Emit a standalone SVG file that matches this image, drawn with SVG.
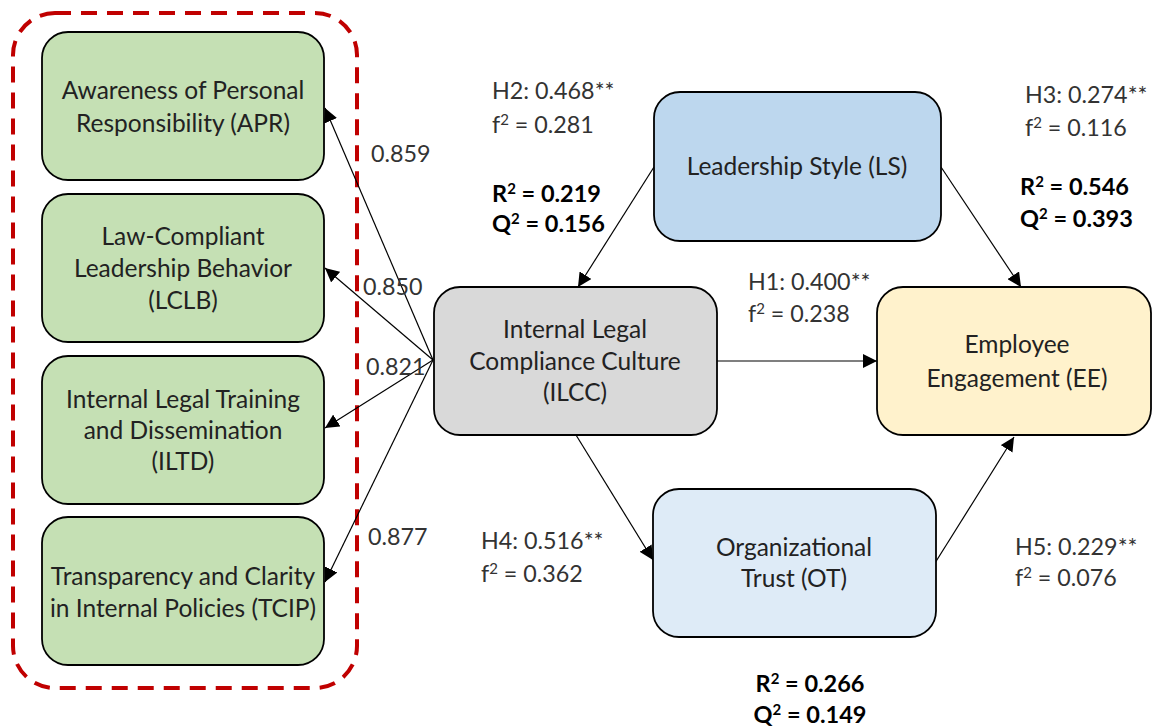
<svg xmlns="http://www.w3.org/2000/svg" width="1153" height="727" viewBox="0 0 1153 727">
<defs>
<style>
.node{stroke:#000;stroke-width:1.8}
.green{fill:#C5E0B4}
.t{font-family:Lato,"Liberation Sans",sans-serif;font-size:24.5px;fill:#222;text-anchor:middle}
.lbl{font-family:Lato,"Liberation Sans",sans-serif;font-size:23.3px;fill:#333}
.bold{font-family:Lato,"Liberation Sans",sans-serif;font-size:23.5px;font-weight:bold;fill:#000}
.sup{font-size:15px}
.c{stroke:#000;stroke-width:1.2;fill:none;marker-end:url(#ah)}
</style>
<marker id="ah" markerUnits="userSpaceOnUse" markerWidth="14" markerHeight="14" viewBox="0 0 14 14" refX="14" refY="7" orient="auto">
<path d="M0,0 L14,7 L0,14 Z" fill="#000"/>
</marker>
</defs>
<rect x="0" y="0" width="1153" height="727" fill="#fff"/>
<rect id="group-border" x="13" y="13" width="344" height="675" rx="42" ry="42" fill="none" stroke="#C00000" stroke-width="4" stroke-dasharray="16 10"/>
<g id="connectors">
<path class="c" d="M433,360 L325,108"/>
<path class="c" d="M433,360 L325,268"/>
<path class="c" d="M433,360 L325,428"/>
<path class="c" d="M433,360 L325,582"/>
<path class="c" d="M654,167 L578,287"/>
<path class="c" d="M941,167 L1021,287"/>
<path class="c" d="M717,361 L877,361"/>
<path class="c" d="M576,435 L653,560"/>
<path class="c" d="M935,563 L1014,437"/>
</g>
<g id="APR"><rect class="node green" x="42" y="32" width="282" height="148" rx="26"/>
<text class="t" x="183" y="99">Awareness of Personal</text><text class="t" x="183" y="132">Responsibility (APR)</text></g>
<g id="LCLB"><rect class="node green" x="42" y="194" width="282" height="148" rx="26"/>
<text class="t" x="183" y="245">Law-Compliant</text><text class="t" x="183" y="277">Leadership Behavior</text><text class="t" x="183" y="309">(LCLB)</text></g>
<g id="ILTD"><rect class="node green" x="42" y="356" width="282" height="148" rx="26"/>
<text class="t" x="183" y="408">Internal Legal Training</text><text class="t" x="183" y="439">and Dissemination</text><text class="t" x="183" y="470">(ILTD)</text></g>
<g id="TCIP"><rect class="node green" x="42" y="517" width="282" height="148" rx="26"/>
<text class="t" x="183" y="585">Transparency and Clarity</text><text class="t" x="183" y="617">in Internal Policies (TCIP)</text></g>
<g id="ILCC"><rect class="node" fill="#D9D9D9" x="434" y="287" width="283" height="148" rx="26"/>
<text class="t" x="575" y="338">Internal Legal</text><text class="t" x="575" y="370">Compliance Culture</text><text class="t" x="575" y="401">(ILCC)</text></g>
<g id="LS"><rect class="node" fill="#BDD7EE" x="654" y="92" width="287" height="149" rx="26"/>
<text class="t" x="797" y="175">Leadership Style (LS)</text></g>
<g id="EE"><rect class="node" fill="#FFF2CC" x="877" y="287" width="274" height="148" rx="26"/>
<text class="t" x="1017" y="353">Employee</text><text class="t" x="1017" y="387">Engagement (EE)</text></g>
<g id="OT"><rect class="node" fill="#DEEBF7" x="653" y="489" width="283" height="148" rx="26"/>
<text class="t" x="794" y="556">Organizational</text><text class="t" x="794" y="587">Trust (OT)</text></g>
<g id="labels">
<text class="lbl" x="371" y="162">0.859</text>
<text class="lbl" x="363" y="295">0.850</text>
<text class="lbl" x="366" y="375">0.821</text>
<text class="lbl" x="368" y="545">0.877</text>
<text class="lbl" x="492" y="99">H2: 0.468**</text>
<text class="lbl" x="492" y="133">f<tspan class="sup" dy="-8">2</tspan><tspan dy="8"> = 0.281</tspan></text>
<text class="bold" x="492" y="202">R<tspan class="sup" dy="-8">2</tspan><tspan dy="8"> = 0.219</tspan></text>
<text class="bold" x="492" y="232">Q<tspan class="sup" dy="-8">2</tspan><tspan dy="8"> = 0.156</tspan></text>
<text class="lbl" x="1025" y="103">H3: 0.274**</text>
<text class="lbl" x="1025" y="136">f<tspan class="sup" dy="-8">2</tspan><tspan dy="8"> = 0.116</tspan></text>
<text class="bold" x="1020" y="195">R<tspan class="sup" dy="-8">2</tspan><tspan dy="8"> = 0.546</tspan></text>
<text class="bold" x="1020" y="227">Q<tspan class="sup" dy="-8">2</tspan><tspan dy="8"> = 0.393</tspan></text>
<text class="lbl" x="748" y="290">H1: 0.400**</text>
<text class="lbl" x="748" y="322">f<tspan class="sup" dy="-8">2</tspan><tspan dy="8"> = 0.238</tspan></text>
<text class="lbl" x="481" y="549">H4: 0.516**</text>
<text class="lbl" x="481" y="582">f<tspan class="sup" dy="-8">2</tspan><tspan dy="8"> = 0.362</tspan></text>
<text class="lbl" x="1015" y="555">H5: 0.229**</text>
<text class="lbl" x="1015" y="586">f<tspan class="sup" dy="-8">2</tspan><tspan dy="8"> = 0.076</tspan></text>
<text class="bold" x="810" y="692" text-anchor="middle">R<tspan class="sup" dy="-8">2</tspan><tspan dy="8"> = 0.266</tspan></text>
<text class="bold" x="810" y="723" text-anchor="middle">Q<tspan class="sup" dy="-8">2</tspan><tspan dy="8"> = 0.149</tspan></text>
</g>
</svg>
